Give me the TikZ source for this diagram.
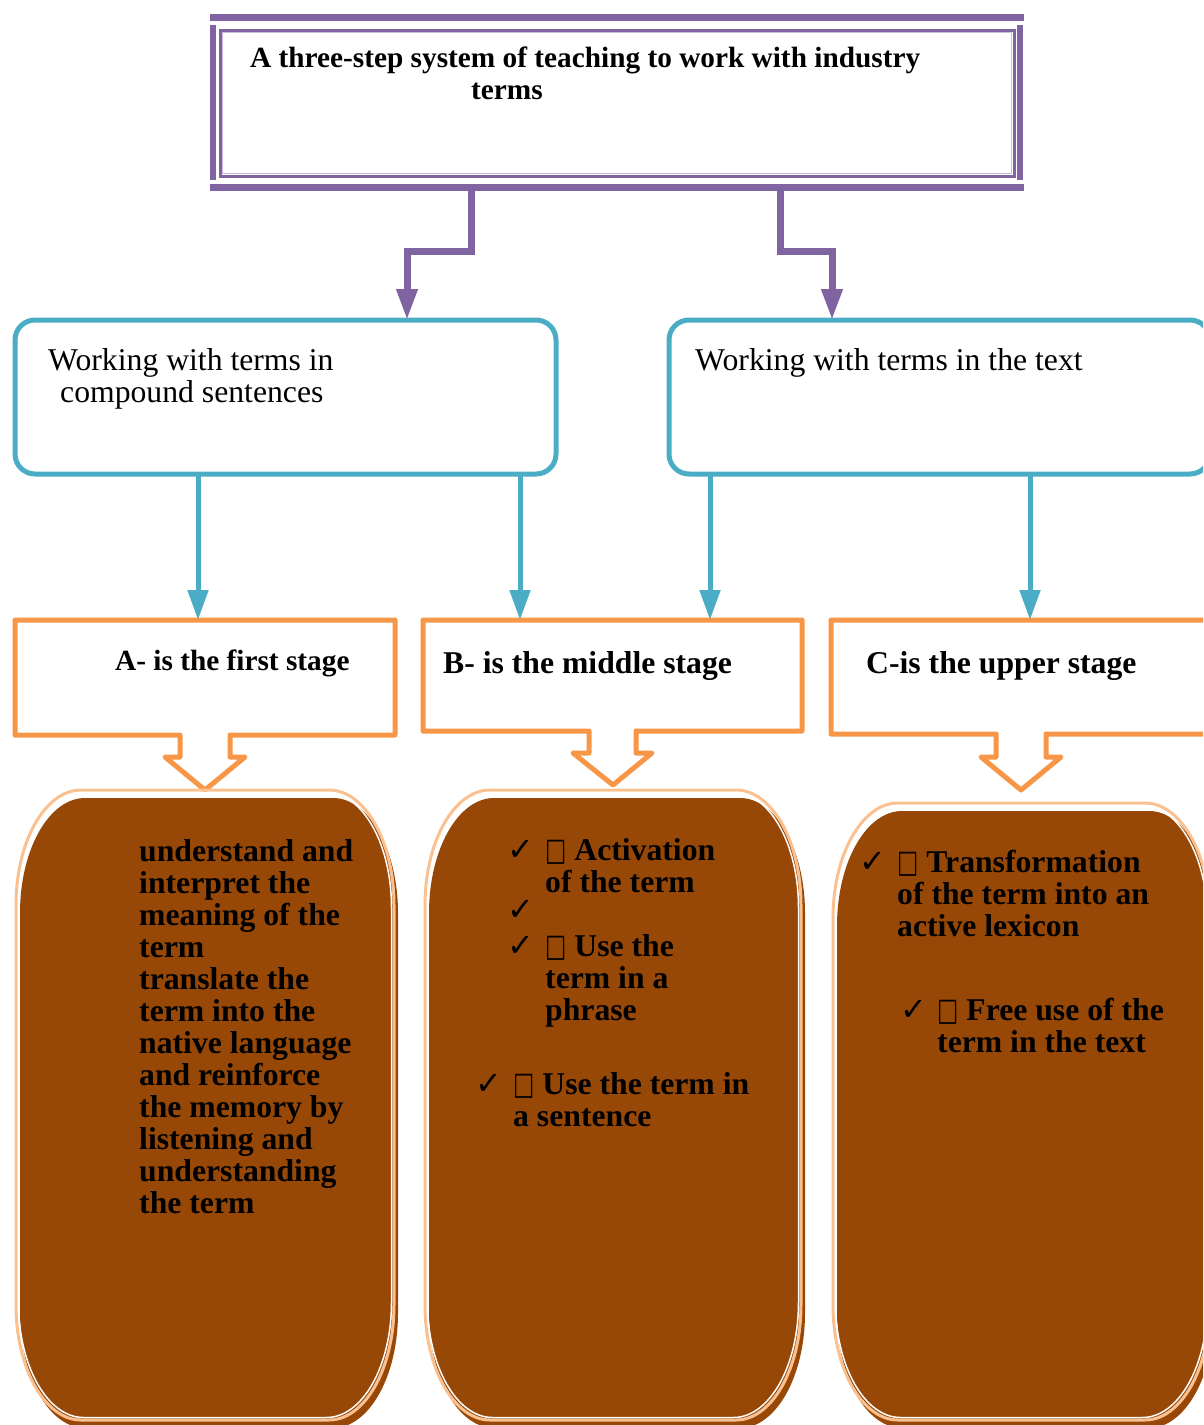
\documentclass[tikz,border=0pt]{standalone}
\usepackage{fontspec}
\usepackage{graphicx}
\setmainfont{Liberation Serif}
\newfontfamily\symfont{DejaVu Sans}
\usetikzlibrary{arrows.meta}
\definecolor{ppl}{HTML}{8064A2}
\definecolor{lav}{HTML}{C9BDDC}
\definecolor{cyn}{HTML}{4BACC6}
\definecolor{org}{HTML}{F79646}
\definecolor{brn}{HTML}{974806}
\definecolor{pch}{HTML}{FAC08F}
\newcommand\tofu{{\symfont\mdseries\fontsize{30}{32}\selectfont\scalebox{0.75}[1.05]{□}}}
\newcommand\ovalpath[4]{(#1+65,#2) -- (#3-65,#2) arc[start angle=270,end angle=360,x radius=65,y radius=115] -- (#3,#4-115) arc[start angle=0,end angle=90,x radius=65,y radius=115] -- (#1+65,#4) arc[start angle=90,end angle=180,x radius=65,y radius=115] -- (#1,#2+115) arc[start angle=180,end angle=270,x radius=65,y radius=115] -- cycle}
\begin{document}
\begin{tikzpicture}[x=1pt,y=-1pt,
  cyanbox/.style={draw=cyn, line width=5pt, rounded corners=20pt, minimum width=541pt, minimum height=154pt, inner sep=0pt, outer sep=0pt},
  hidden/.style={inner sep=0pt, outer sep=0pt},
  purarrow/.style={draw=ppl, line width=7pt, -{Triangle[length=31pt,width=20pt]}},
  cyanarrow/.style={draw=cyn, line width=5pt, -{Triangle[length=30pt,width=20pt]}},
  orangeline/.style={draw=org, line width=5pt, line join=round},
  brownfill/.style={fill=brn},
  peachline/.style={draw=pch, line width=3pt},
  innerwhite/.style={draw=white, line width=1.5pt},
  txt/.style={inner sep=0pt, anchor=base west, align=left},
  big/.style={font=\fontsize{31.7}{32}\selectfont},
  bigb/.style={font=\fontsize{31.7}{32}\selectfont\bfseries},
  midb/.style={font=\fontsize{29.3}{32}\selectfont\bfseries},
  chk/.style={inner sep=0pt, anchor=base west, font=\symfont\fontsize{32}{32}\selectfont}]
\useasboundingbox (0,0) rectangle (1203,1425);
\clip (0,0) rectangle (1203,1425);

% title frame
\fill[ppl] (210,14) rectangle (1024,21);
\fill[ppl] (210,184) rectangle (1024,191);
\fill[ppl] (210,25) rectangle (216,180);
\fill[ppl] (1017,25) rectangle (1023,180);
\draw[ppl, line width=3pt] (220,30) rectangle (1014,176);
\draw[lav, line width=1pt] (222.5,32.5) rectangle (1011.5,173.5);
\node[hidden, minimum width=814pt, minimum height=177pt] (tt) at (617,102.5) {};
\node[txt, midb] (ttext) at (250,99) {A three-step system of teaching to work with industry\\\hspace*{221pt}terms};

% cyan boxes
\node[cyanbox] (cL) at (285.5,397) {};
\node[cyanbox] (cR) at (939.5,397) {};
\node[txt, big] (cLt) at (48,402) {Working with terms in\\\hspace*{12pt}compound sentences};
\node[txt, big] (cRt) at (695,370) {Working with terms in the text};

% purple connectors
\coordinate (pA) at (471,251);
\coordinate (pB) at (407,251);
\coordinate (pC) at (780,251);
\coordinate (pD) at (832,251);
\draw[purarrow] (tt.south -| pA) -- (pA) -- (pB) -- (cL.north -| pB);
\draw[purarrow] (tt.south -| pC) -- (pC) -- (pD) -- (cR.north -| pD);

% orange boxes
\node[hidden, minimum width=380pt, minimum height=115pt] (oA) at (205,677.5) {};
\node[hidden, minimum width=379pt, minimum height=111pt] (oB) at (612.5,675.5) {};
\node[hidden, minimum width=384pt, minimum height=114pt] (oC) at (1023,677) {};
\draw[orangeline] (15,620) -- (395,620) -- (395,735) -- (230,735) -- (230,757) -- (245,757) -- (205,790) -- (165,757) -- (180,757) -- (180,735) -- (15,735) -- cycle;
\draw[orangeline] (423,620) -- (802,620) -- (802,731) -- (636,731) -- (636,753) -- (652,753) -- (613,785) -- (573,753) -- (589,753) -- (589,731) -- (423,731) -- cycle;
\draw[orangeline] (831,620) -- (1215,620) -- (1215,734) -- (1046,734) -- (1046,757) -- (1061,757) -- (1021,790) -- (981,757) -- (996,757) -- (996,734) -- (831,734) -- cycle;
\node[txt, midb] (oAt) at (115,670) {A- is the first stage};
\node[txt, bigb] (oBt) at (443,673) {B- is the middle stage};
\node[txt, bigb] (oCt) at (866,673) {C-is the upper stage};

% cyan connectors
\coordinate (x1) at (198,0);
\coordinate (x2) at (520,0);
\coordinate (x3) at (710,0);
\coordinate (x4) at (1030,0);
\draw[cyanarrow] (cL.south -| x1) -- (oA.north -| x1);
\draw[cyanarrow] (cL.south -| x2) -- (oB.north -| x2);
\draw[cyanarrow] (cR.south -| x3) -- (oB.north -| x3);
\draw[cyanarrow] (cR.south -| x4) -- (oC.north -| x4);

% brown boxes
\fill[brownfill] \ovalpath{20}{798}{398}{1428};
\fill[brownfill] \ovalpath{429}{798}{805}{1428};
\fill[brownfill] \ovalpath{837}{811}{1214}{1428};
\draw[peachline] \ovalpath{16}{790}{394}{1420};
\draw[innerwhite] \ovalpath{18.5}{792.5}{391.5}{1417.5};
\draw[peachline] \ovalpath{425}{790}{801}{1420};
\draw[innerwhite] \ovalpath{427.5}{792.5}{798.5}{1417.5};
\draw[peachline] \ovalpath{833}{803}{1210}{1420};
\draw[innerwhite] \ovalpath{835.5}{805.5}{1207.5}{1417.5};

% brown texts
\node[txt, bigb] (bA) at (139,1213) {understand and\\interpret the\\meaning of the\\term\\translate the\\term into the\\native language\\and reinforce\\the memory by\\listening and\\understanding\\the term};

\node[chk] (k1) at (507,860) {✓};
\node[txt, bigb] (b1) at (545,892) {\tofu\ Activation\\of the term};
\node[chk] (k2) at (507,920) {✓};
\node[chk] (k3) at (507,956) {✓};
\node[txt, bigb] (b2) at (545,1020) {\tofu\ Use the\\term in a\\phrase};
\node[chk] (k4) at (475,1094) {✓};
\node[txt, bigb] (b3) at (513,1126) {\tofu\ Use the term in\\a sentence};

\node[chk] (k5) at (859,872) {✓};
\node[txt, bigb] (c1) at (897,936) {\tofu\ Transformation\\of the term into an\\active lexicon};
\node[chk] (k6) at (900,1020) {✓};
\node[txt, bigb] (c2) at (937,1052) {\tofu\ Free use of the\\term in the text};
\end{tikzpicture}
\end{document}
